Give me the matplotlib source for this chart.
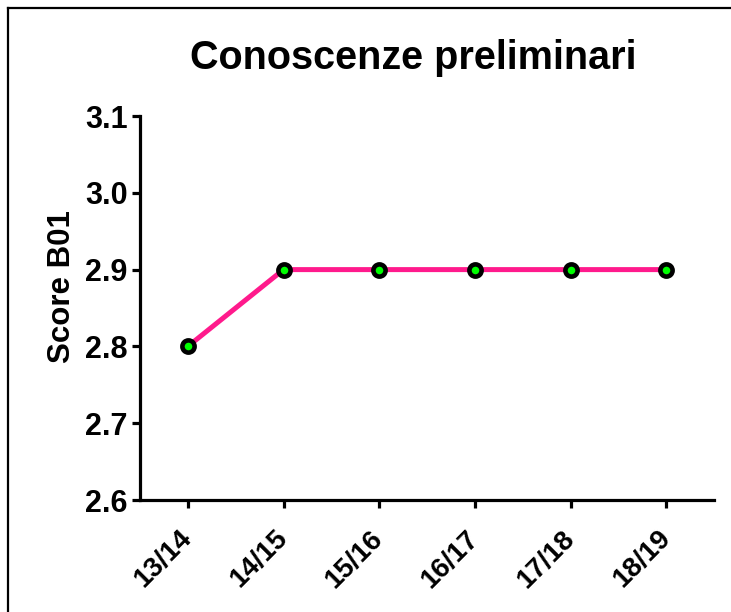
import matplotlib
matplotlib.use("Agg")
import matplotlib.pyplot as plt
from matplotlib.lines import Line2D

plt.rc("font", family="Liberation Sans", weight="bold")

# data
years = ["13/14", "14/15", "15/16", "16/17", "17/18", "18/19"]
scores = [2.8, 2.9, 2.9, 2.9, 2.9, 2.9]
y_ticks = [2.6, 2.7, 2.8, 2.9, 3.0, 3.1]

fig = plt.figure(figsize=(7.31, 6.12), dpi=100)
ax = fig.add_axes([140 / 731, 112 / 612, 574 / 731, 384 / 612])

ax.plot(
    range(len(years)),
    scores,
    color="#ff1a8c",
    linewidth=3.6,
    marker="o",
    markersize=8.8,
    markerfacecolor="#00ff00",
    markeredgecolor="black",
    markeredgewidth=3.3,
    zorder=3,
)

ax.set_xlim(-0.5, 5.5)
ax.set_ylim(2.6, 3.1)
ax.set_yticks(y_ticks)
ax.set_yticklabels(["%.1f" % v for v in y_ticks], fontsize=22, fontweight="bold")
ax.set_xticks(range(len(years)))
ax.set_xticklabels(years, fontsize=20, fontweight="bold", rotation=45,
                   ha="right", va="center", rotation_mode="anchor")

ax.spines["right"].set_visible(False)
ax.spines["top"].set_visible(False)
for s in ["left", "bottom"]:
    ax.spines[s].set_linewidth(2.3)
ax.tick_params(axis="both", length=6, width=2.3, pad=3, color="black")
ax.tick_params(axis="x", pad=19)

fig.text(413 / 731, 1 - 58 / 612, "Conoscenze preliminari", fontsize=28.5,
         fontweight="bold", ha="center", va="center")
fig.text(62 / 731, 1 - 287 / 612, "Score B01", fontsize=22.5, fontweight="bold",
         rotation=90, ha="center", va="center")

# partial frame (top and left edges)
fig.add_artist(Line2D([8 / 731, 1], [1 - 8 / 612, 1 - 8 / 612], color="black", linewidth=1.6))
fig.add_artist(Line2D([8 / 731, 8 / 731], [0, 1 - 8 / 612], color="black", linewidth=1.6))

fig.savefig("out.png", dpi=100)
